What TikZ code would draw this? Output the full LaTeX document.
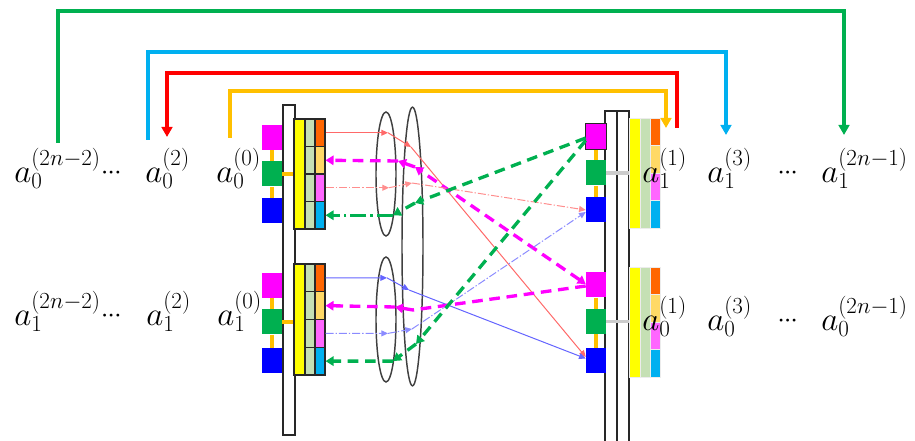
\documentclass[tikz,border=0pt]{standalone}
\usetikzlibrary{arrows.meta,shapes.geometric,calc}

\definecolor{cMag}{RGB}{255,0,255}
\definecolor{cGrn}{RGB}{0,176,80}
\definecolor{cBlu}{RGB}{0,0,255}
\definecolor{cYel}{RGB}{255,255,0}
\definecolor{cSage}{RGB}{197,224,180}
\definecolor{cOra}{RGB}{255,102,0}
\definecolor{cLOra}{RGB}{255,217,102}
\definecolor{cPink}{RGB}{255,102,255}
\definecolor{cCyan}{RGB}{0,176,240}
\definecolor{cGold}{RGB}{255,192,0}
\definecolor{cRed}{RGB}{255,0,0}
\definecolor{cThinRed}{RGB}{255,105,105}
\definecolor{cThinBlue}{RGB}{100,100,255}
\definecolor{cEdge}{RGB}{40,40,40}

% large base letter with compact indices
\DeclareMathSizes{27}{27}{17}{12}
% tight centred ellipsis
\newcommand{\lbldots}{\raisebox{2.5pt}{\fontsize{20}{20}\selectfont$\cdotp$\kern-0.8pt$\cdotp$\kern-0.8pt$\cdotp$}}

\begin{document}
\begin{tikzpicture}[x=0.75pt,y=-0.75pt,
  thintip/.tip={Triangle[length=5pt,width=4.5pt]},
  fattip/.tip={Triangle[length=6pt,width=7pt]},
  bigtip/.tip={Triangle[length=7.5pt,width=8pt]},
  bar/.style={draw=cEdge, fill=white, line width=0.8pt},
  lcol/.style={draw=cEdge, line width=0.8pt, inner sep=0pt, minimum width=8.25pt},
  lcell/.style={draw=cEdge, line width=0.8pt, inner sep=0pt, minimum width=7.5pt},
  rcol/.style={draw=white!85!gray, line width=0.4pt, inner sep=0pt, minimum width=8.25pt},
  rcell/.style={draw=white!85!gray, line width=0.4pt, inner sep=0pt, minimum width=7.5pt},
  sq/.style={inner sep=0pt, minimum width=15pt, minimum height=18.75pt},
  gold/.style={draw=cGold, line width=2.8pt},
  grayline/.style={draw=black!20, line width=2.6pt},
  ell/.style={draw=black!75, ellipse, line width=1.1pt, inner sep=0pt},
  redline/.style={draw=cThinRed, line width=0.75pt},
  reddd/.style={draw=cThinRed!75, line width=0.75pt, dash pattern=on 6pt off 1.5pt on 1pt off 1.5pt},
  blueline/.style={draw=cThinBlue, line width=0.75pt},
  bluedd/.style={draw=cThinBlue!75, line width=0.75pt, dash pattern=on 6pt off 1.5pt on 1pt off 1.5pt},
  magline/.style={draw=cMag, line width=2.5pt, dash pattern=on 8pt off 5pt},
  grnline/.style={draw=cGrn, line width=2.5pt, dash pattern=on 8pt off 5pt},
  grndd/.style={draw=cGrn, line width=2.5pt, dash pattern=on 12pt off 3pt on 2pt off 3pt},
  toparrow/.style={line width=3pt, -bigtip},
  lbl/.style={anchor=base west, inner sep=0pt, font=\fontsize{27}{32}\selectfont}]
\useasboundingbox (0,0) rectangle (915,441);

% white buses
\draw[bar] (283,105) rectangle (295,435);
\draw[bar] (605,111) rectangle (617,445);
\draw[bar] (617,111) rectangle (629,445);

% left register stacks
\foreach \g/\t/\h in {LT/119/27.5, LB/264/27.75} {
  \node[lcol, fill=cYel, minimum height={4*\h*0.75pt}] (\g-y) at (299.5,{\t+2*\h}) {};
  \foreach \c [count=\i] in {cOra,cLOra,cPink,cCyan} {
    \node[lcell, fill=cSage, minimum height={\h*0.75pt}] (\g-s\i) at (310,{\t+\h*\i-\h/2}) {};
    \node[lcell, fill=\c, minimum height={\h*0.75pt}] (\g-c\i) at (320,{\t+\h*\i-\h/2}) {};
  }
}

% right register stacks
\foreach \g/\t/\h in {RT/118/27.5, RB/267/27.5} {
  \node[rcol, fill=cYel, minimum height={4*\h*0.75pt}] (\g-y) at (634.5,{\t+2*\h}) {};
  \node[rcol, fill=cSage, minimum width=7.5pt, minimum height={4*\h*0.75pt}] (\g-s) at (645,{\t+2*\h}) {};
  \foreach \c [count=\i] in {cOra,cLOra,cPink,cCyan} {
    \node[rcell, fill=\c, minimum height={\h*0.75pt}] (\g-c\i) at (655,{\t+\h*\i-\h/2}) {};
  }
}

% port squares
\foreach \g/\x/\ym/\yg/\yb in {LT/272/137.5/174/210.5, LB/272/285.5/322/360.5, RT/596/136.5/173/210, RB/596/285/321.5/360.5} {
  \node[sq, fill=cMag] (\g-m) at (\x,\ym) {};
  \node[sq, fill=cGrn] (\g-g) at (\x,\yg) {};
  \node[sq, fill=cBlu] (\g-b) at (\x,\yb) {};
  \draw[gold] (\g-m.south) -- (\g-g.north);
  \draw[gold] (\g-g.south) -- (\g-b.north);
}
\draw[draw=cEdge, line width=0.8pt] (RT-m.south west) rectangle (RT-m.north east);

% links from ports to buses and stacks
\draw[gold] (LT-g.east) -- (LT-g.east -| LT-y.west);
\draw[gold] (LB-g.east) -- (LB-g.east -| LB-y.west);
\draw[grayline] (RT-g.east) -- (RT-g.east -| RT-y.west);
\draw[grayline] (RB-g.east) -- (RB-g.east -| RB-y.west);

% grouping ellipses
\node[ell, minimum width=15pt, minimum height=93pt] (E1) at (386,174) {};
\node[ell, minimum width=15.75pt, minimum height=209pt] (E2) at (412.5,246.5) {};
\node[ell, minimum width=15pt, minimum height=93.75pt] (E3) at (386,319.5) {};

% waypoints on the ellipses
\coordinate (r1a) at (388,132.75);   \coordinate (r1b) at (411,147);
\coordinate (m1a) at (398,161);      \coordinate (m1b) at (415,167);
\coordinate (r3a) at (389,187.75);   \coordinate (r3b) at (412,183);
\coordinate (g1a) at (393,215.25);   \coordinate (g1b) at (415,203);
\coordinate (b1a) at (387,277.9);    \coordinate (b1b) at (409,290);
\coordinate (m2a) at (395,307);      \coordinate (m2b) at (413,310);
\coordinate (b3a) at (388,333.4);    \coordinate (b3b) at (412,329);
\coordinate (g2a) at (393,361.1);    \coordinate (g2b) at (416,344);

% upper group traffic
\draw[redline, -thintip] (LT-c1.east) -- (r1a);
\draw[redline, -thintip] (r1a) -- (r1b);
\draw[redline, -thintip] (r1b) -- ($(RB-b.west)+(0,-3.5)$);

\draw[magline, fattip-fattip] ($(RB-m.west)+(0,-1)$) -- (m1b);
\draw[magline, -fattip] (m1b) -- (m1a);
\draw[magline, -fattip] (m1a) -- (LT-c2.east);

\draw[reddd, -thintip] (LT-c3.east) -- (r3a);
\draw[reddd, -thintip] (r3a) -- (r3b);
\draw[reddd, -thintip] (r3b) -- (RT-b.west);

\draw[grnline, -fattip] ($(RT-m.west)+(0,1.5)$) -- (g1b);
\draw[grnline, -fattip] (g1b) -- (g1a);
\draw[grndd, -fattip] (g1a) -- (LT-c4.east);

% lower group traffic
\draw[blueline, -thintip] (LB-c1.east) -- (b1a);
\draw[blueline, -thintip] (b1a) -- (b1b);
\draw[blueline, -thintip] (b1b) -- ($(RB-b.west)+(0,-2)$);

\draw[magline] ($(RB-m.west)+(0,1)$) -- (m2b);
\draw[magline, -fattip] (m2b) -- (m2a);
\draw[magline, -fattip] (m2a) -- (LB-c2.east);

\draw[bluedd, -thintip] (LB-c3.east) -- (b3a);
\draw[bluedd, -thintip] (b3a) -- (b3b);
\draw[bluedd, -thintip] (b3b) -- ($(RT-b.west)+(0,2)$);

\draw[grnline, -fattip] ($(RT-m.west)+(0,4)$) -- (g2b);
\draw[grnline, -fattip] (g2b) -- (g2a);
\draw[grnline, -fattip] (g2a) -- (LB-c4.east);

% coefficient labels
\node[lbl] (L1) at (14,183) {$a_0^{(2n-2)}$\lbldots};
\node[lbl] (L2) at (145,183) {$a_0^{(2)}$};
\node[lbl] (L3) at (216,183) {$a_0^{(0)}$};
\node[lbl] (R1) at (642,183) {$a_1^{(1)}$};
\node[lbl] (R2) at (707,183) {$a_1^{(3)}$};
\node[lbl] (R3) at (777,183) {\lbldots};
\node[lbl] (R4) at (821,183) {$a_1^{(2n-1)}$};

\node[lbl] (L4) at (14,326) {$a_1^{(2n-2)}$\lbldots};
\node[lbl] (L5) at (146,326) {$a_1^{(2)}$};
\node[lbl] (L6) at (217,326) {$a_1^{(0)}$};
\node[lbl] (R5) at (642,331) {$a_0^{(1)}$};
\node[lbl] (R6) at (707,331) {$a_0^{(3)}$};
\node[lbl] (R7) at (777,331) {\lbldots};
\node[lbl] (R8) at (821,331) {$a_0^{(2n-1)}$};

% outer routing arrows
\coordinate (gS) at (58,143);  \coordinate (gE) at (844,135);
\coordinate (bS) at (148,140); \coordinate (bE) at (726,135);
\coordinate (rS) at (677,128); \coordinate (rE) at (167,137);
\coordinate (oS) at (230,138); \coordinate (oE) at (666,128);
\draw[toparrow, cGrn] (gS) -- ++(0,-132) -| (gE);
\draw[toparrow, cCyan] (bS) -- ++(0,-88) -| (bE);
\draw[toparrow, cRed] (rS) -- ++(0,-55) -| (rE);
\draw[toparrow, cGold] (oS) -- ++(0,-47) -| (oE);
\end{tikzpicture}
\end{document}
